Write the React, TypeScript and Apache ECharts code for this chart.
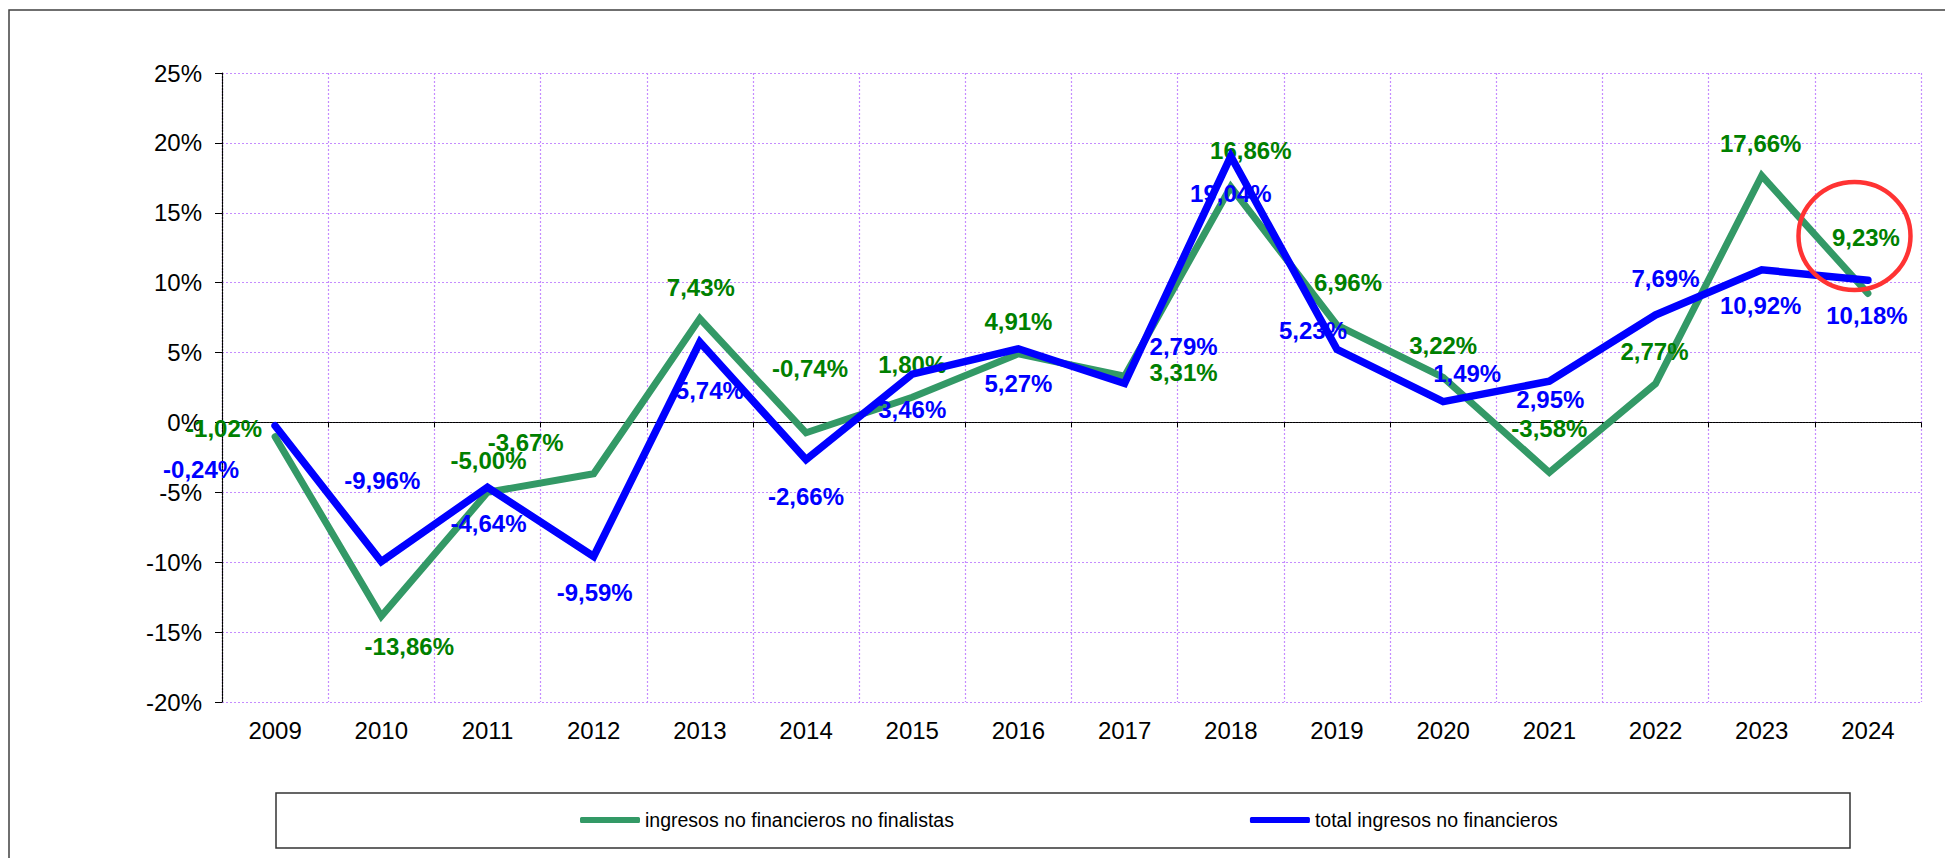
import React, { useEffect, useRef } from "react";
import * as echarts from "echarts";

const years = ["2009","2010","2011","2012","2013","2014","2015","2016","2017","2018","2019","2020","2021","2022","2023","2024"];
const greenName = "ingresos no financieros no finalistas";
const blueName = "total ingresos no financieros";
const greenValues = [-1.02, -13.86, -5.0, -3.67, 7.43, -0.74, 1.8, 4.91, 3.31, 16.86, 6.96, 3.22, -3.58, 2.77, 17.66, 9.23];
const blueValues = [-0.24, -9.96, -4.64, -9.59, 5.74, -2.66, 3.46, 5.27, 2.79, 19.04, 5.23, 1.49, 2.95, 7.69, 10.92, 10.18];
const yMin = -20;
const yMax = 25;
const yStep = 5;

// label offsets (px) relative to each point, as placed in the original
const greenLabelOffset = [[-51,-8],[28,30],[1,-32],[-68,-31],[1,-31],[4,-64],[0,-33],[0,-32],[59,-4],[20,-36],[11,-43],[0,-32],[0,-44],[-1,-32],[-1,-32],[-2,-56]];
const blueLabelOffset = [[-74,44],[1,-81],[1,36],[1,36],[10,48],[0,37],[0,35],[0,35],[59,-37],[0,37],[-24,-19],[24,-28],[1,18],[10,-36],[-1,36],[-1,35]];

const FONT = "'Liberation Sans', Arial, sans-serif";
const fmt = (v: number) => v.toFixed(2).replace(".", ",") + "%";

export default function App() {
  const ref = useRef<HTMLDivElement>(null);
  useEffect(() => {
    if (!ref.current) return;
    const chart = echarts.init(ref.current, null, { renderer: "svg" });
    const mkData = (vals: number[], offs: number[][]) =>
      vals.map((v, i) => ({ value: v, label: { offset: offs[i] } }));
    const labelBase = (color: string) => ({
      show: true,
      position: "inside",
      color,
      fontSize: 24,
      fontWeight: "bold",
      fontFamily: FONT,
      formatter: (p: any) => fmt(p.value),
    });
    const gridLine = { color: "#c58cff", type: [2, 2], width: 1.2 };
    chart.setOption({
      animation: false,
      backgroundColor: "#ffffff",
      grid: { left: 222, top: 73, width: 1699, height: 629, containLabel: false },
      legend: {
        left: 580,
        top: 810,
        padding: 0,
        icon: "roundRect",
        itemWidth: 60,
        itemHeight: 6,
        itemGap: 296,
        textStyle: { fontSize: 19.5, fontFamily: FONT, color: "#000" },
        data: [greenName, blueName],
      },
      xAxis: [
        {
          type: "category",
          data: years,
          position: "bottom",
          axisLine: { onZero: true, lineStyle: { color: "#000", type: [2, 1], width: 1.2 } },
          axisTick: { show: true, length: 5, interval: 0, lineStyle: { color: "#000" } },
          axisLabel: { show: false, interval: 0 },
          splitLine: { show: true, interval: 0, lineStyle: gridLine },
        },
        {
          type: "category",
          data: years,
          position: "bottom",
          axisLine: { show: false, onZero: false },
          axisTick: { show: false },
          axisLabel: { show: true, interval: 0, margin: 16, fontSize: 24, fontFamily: FONT, color: "#000" },
          splitLine: { show: false },
        },
      ],
      yAxis: {
        type: "value",
        min: yMin,
        max: yMax,
        interval: yStep,
        axisLine: { show: true, lineStyle: { color: "#000", type: [2, 1], width: 1.2 } },
        axisTick: { show: true, length: 7, lineStyle: { color: "#000" } },
        axisLabel: { margin: 20, fontSize: 24, fontFamily: FONT, color: "#000", formatter: (v: number) => v + "%" },
        splitLine: { show: true, lineStyle: gridLine },
      },
      series: [
        {
          name: greenName,
          type: "line",
          xAxisIndex: 0,
          data: mkData(greenValues, greenLabelOffset),
          symbol: "circle",
          symbolSize: 2,
          lineStyle: { color: "#339966", width: 7, join: "miter", cap: "round" },
          itemStyle: { color: "#339966" },
          label: labelBase("#008000"),
          z: 2,
        },
        {
          name: blueName,
          type: "line",
          xAxisIndex: 0,
          data: mkData(blueValues, blueLabelOffset),
          symbol: "circle",
          symbolSize: 2,
          lineStyle: { color: "#0000ff", width: 7.5, join: "miter", cap: "round" },
          itemStyle: { color: "#0000ff" },
          label: labelBase("#0000ff"),
          z: 3,
        },
      ],
      graphic: [
        {
          type: "rect",
          shape: { x: 9, y: 10, width: 2000, height: 900 },
          style: { fill: "none", stroke: "#404040", lineWidth: 1.5 },
          silent: true,
        },
        {
          type: "rect",
          shape: { x: 276, y: 793, width: 1574, height: 55 },
          style: { fill: "none", stroke: "#333", lineWidth: 1.5 },
          silent: true,
        },
        {
          type: "ellipse",
          shape: { cx: 1854.5, cy: 236, rx: 56, ry: 54 },
          style: { fill: "none", stroke: "#ff3333", lineWidth: 4.5 },
          silent: true,
          z: 100,
        },
      ],
    });
    return () => chart.dispose();
  }, []);
  return (
    <div
      ref={ref}
      style={{ position: "absolute", left: 0, top: 0, width: 1945, height: 858, background: "#fff" }}
    />
  );
}
